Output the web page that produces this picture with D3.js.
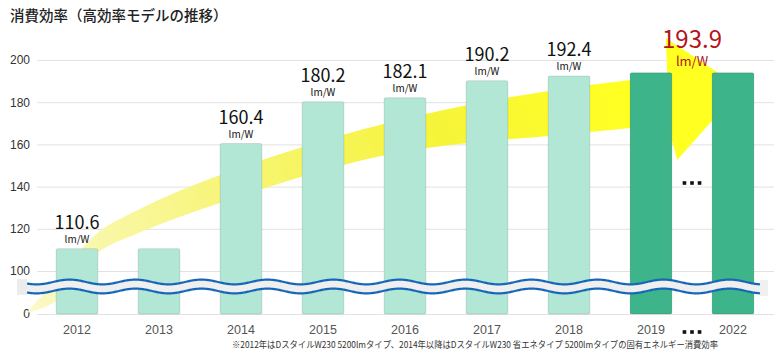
<!DOCTYPE html>
<html lang="ja">
<head>
<meta charset="UTF-8">
<title>消費効率（高効率モデルの推移）</title>
<style>
  body { margin: 0; background: #fff; }
  svg { display: block; font-family: "Noto Sans CJK JP", "Noto Sans", sans-serif; }
  .grid line { stroke: #e2e2e2; stroke-width: 1; }
  .grid .domain { display: none; }
  .grid text { fill: #333; font-size: 12px; }
  .xaxis .domain, .xaxis line { display: none; }
  .xaxis text { fill: #555; font-size: 12.5px; font-weight: 500; }
</style>
<script src="https://cdn.jsdelivr.net/npm/d3@7"></script>
</head>
<body>
<script>
// data
const categories = ["2012", "2013", "2014", "2015", "2016", "2017", "2018", "2019", "2022"];
const efficiency = [110.6, 110.6, 160.4, 180.2, 182.1, 190.2, 192.4, 193.9, 193.9];
const valueLabels = ["110.6", "", "160.4", "180.2", "182.1", "190.2", "192.4", "", ""];
const highlighted = ["2019", "2022"];
const highlightLabel = "193.9";
const unit = "lm/W";
const yTicks = [0, 100, 120, 140, 160, 180, 200];
const title = "消費効率（高効率モデルの推移）";
const footnote = "※2012年はDスタイルW230 5200lmタイプ、2014年以降はDスタイルW230 省エネタイプ 5200lmタイプの固有エネルギー消費効率";

// decorative arrow outline, in [slot, value] units
const arrowUpper = [[-0.62, 2], [-0.3, 70], [0.25, 118], [0.75, 129], [1.25, 138], [1.75, 145.5],
  [2.25, 152.5], [2.75, 158.8], [3.25, 164.6], [3.75, 169.8], [4.25, 174.4], [4.75, 178.6],
  [5.25, 182.2], [5.75, 185.3], [6.25, 188.1], [6.75, 190.5], [7.2, 192.4]];
const arrowHead = [[7.18, 210.4], [8.1, 186.7], [7.32, 152.6]];
const arrowLower = [[7.2, 169.7], [6.75, 167.8], [6.25, 165.9], [5.75, 164], [5.25, 162.4],
  [4.75, 160.6], [4.25, 158.2], [3.75, 154.8], [3.25, 150.2], [2.75, 144.8], [2.25, 138.8],
  [1.75, 132.4], [1.25, 125.6], [0.75, 118], [0.25, 108.5], [-0.25, 30], [-0.62, 2]];

const width = 784, height = 361;
const left = 37, right = 774;

const svg = d3.select("body").append("svg")
  .attr("width", width)
  .attr("height", height);

const x = d3.scaleBand()
  .domain(categories)
  .range([36, 774])
  .paddingInner(0.49)
  .paddingOuter(0.245);

// broken axis: 0-100 squeezed
const y = d3.scaleLinear()
  .domain([0, 100, 200])
  .range([314, 271, 60]);

const cx = c => x(c) + x.bandwidth() / 2;
const ux = u => cx(categories[0]) + u * x.step();

svg.append("text")
  .attr("x", 10).attr("y", 21)
  .attr("font-size", 14.5)
  .attr("font-weight", 500)
  .attr("fill", "#222")
  .text(title);

// gridlines + y labels
svg.append("g")
  .attr("class", "grid")
  .attr("transform", `translate(${left},0)`)
  .call(d3.axisLeft(y).tickValues(yTicks).tickSize(-(right - left)).tickPadding(7));

// yellow arrow
const grad = svg.append("defs").append("linearGradient")
  .attr("id", "arrowGrad")
  .attr("gradientUnits", "userSpaceOnUse")
  .attr("x1", 30).attr("y1", 310).attr("x2", 620).attr("y2", 90);
grad.append("stop").attr("offset", 0).attr("stop-color", "#fbf9c6");
grad.append("stop").attr("offset", 0.35).attr("stop-color", "#f7f57a");
grad.append("stop").attr("offset", 0.7).attr("stop-color", "#f6f43a");
grad.append("stop").attr("offset", 1).attr("stop-color", "#ffff22");

const edge = d3.line()
  .x(d => ux(d[0]))
  .y(d => y(d[1]))
  .curve(d3.curveCatmullRom);

const headPath = arrowHead.map(d => `L${ux(d[0])},${y(d[1])}`).join("");
svg.append("path")
  .attr("d", edge(arrowUpper) + headPath + "L" + edge(arrowLower).slice(1) + "Z")
  .attr("fill", "url(#arrowGrad)");

// bars
svg.append("g")
  .selectAll("rect")
  .data(categories)
  .join("rect")
  .attr("x", d => x(d))
  .attr("y", (d, i) => y(efficiency[i]))
  .attr("width", x.bandwidth())
  .attr("height", (d, i) => y(0) - y(efficiency[i]))
  .attr("rx", 1.5)
  .attr("fill", d => highlighted.includes(d) ? "#3db48a" : "#b2e6d5")
  .attr("stroke", "rgba(0,0,0,0.13)")
  .attr("stroke-width", 0.8);

// value labels
const labels = svg.append("g").attr("text-anchor", "middle").attr("fill", "#111");
categories.forEach((c, i) => {
  if (!valueLabels[i]) return;
  labels.append("text")
    .attr("x", cx(c)).attr("y", y(efficiency[i]) - 20)
    .attr("font-size", 18)
    .text(valueLabels[i]);
  labels.append("text")
    .attr("x", cx(c)).attr("y", y(efficiency[i]) - 6)
    .attr("font-size", 10)
    .text(unit);
});

// highlighted label between 2019 and 2022
const midX = (cx(highlighted[0]) + cx(highlighted[1])) / 2;
const hv = efficiency[categories.indexOf(highlighted[0])];
svg.append("text")
  .attr("x", midX).attr("y", y(hv) - 25)
  .attr("text-anchor", "middle")
  .attr("font-size", 24)
  .attr("fill", "#b3151a")
  .text(highlightLabel);
svg.append("text")
  .attr("x", midX).attr("y", y(hv) - 7)
  .attr("text-anchor", "middle")
  .attr("font-size", 13)
  .attr("fill", "#b3151a")
  .text(unit);

// axis break wave
const waveTop = y(100) + 11, waveBot = y(100) + 20;
const waveX = d3.range(27, 760.5, 1);
const amp = 2.4, len = 66;
const wave = off => waveX.map(px => [px, off + amp * Math.sin((px - 20) / len * 2 * Math.PI)]);
svg.append("path")
  .attr("d", d3.line()(wave(waveTop)) + "L" + d3.line()(wave(waveBot).reverse()).slice(1) + "Z")
  .attr("fill", "#efefef");
svg.append("rect").attr("x", 17).attr("y", waveTop - 3).attr("width", 10).attr("height", waveBot - waveTop + 7).attr("fill", "#ececec");
svg.append("rect").attr("x", 760).attr("y", waveTop - 2).attr("width", 8).attr("height", waveBot - waveTop + 7).attr("fill", "#f0f0f0");
[waveTop, waveBot].forEach(off => {
  svg.append("path")
    .attr("d", d3.line()(wave(off)))
    .attr("fill", "none")
    .attr("stroke", "#1767b9")
    .attr("stroke-width", 2.2);
});

// x axis
svg.append("g")
  .attr("class", "xaxis")
  .attr("transform", `translate(0,${y(0) + 11})`)
  .call(d3.axisBottom(x).tickSize(0).tickPadding(0));

// ellipsis marks
function dots(xc, yc, s) {
  svg.append("g").selectAll("rect")
    .data([-1, 0, 1])
    .join("rect")
    .attr("x", k => xc + k * s * 2.1 - s / 2)
    .attr("y", yc - s / 2)
    .attr("width", s).attr("height", s)
    .attr("fill", "#111");
}
dots(midX, 183, 3.6);
dots(midX, 332, 3.6);

svg.append("text")
  .attr("x", 232).attr("y", 348)
  .attr("font-size", 9)
  .attr("fill", "#333")
  .attr("textLength", 486)
  .attr("lengthAdjust", "spacingAndGlyphs")
  .text(footnote);
</script>
</body>
</html>
